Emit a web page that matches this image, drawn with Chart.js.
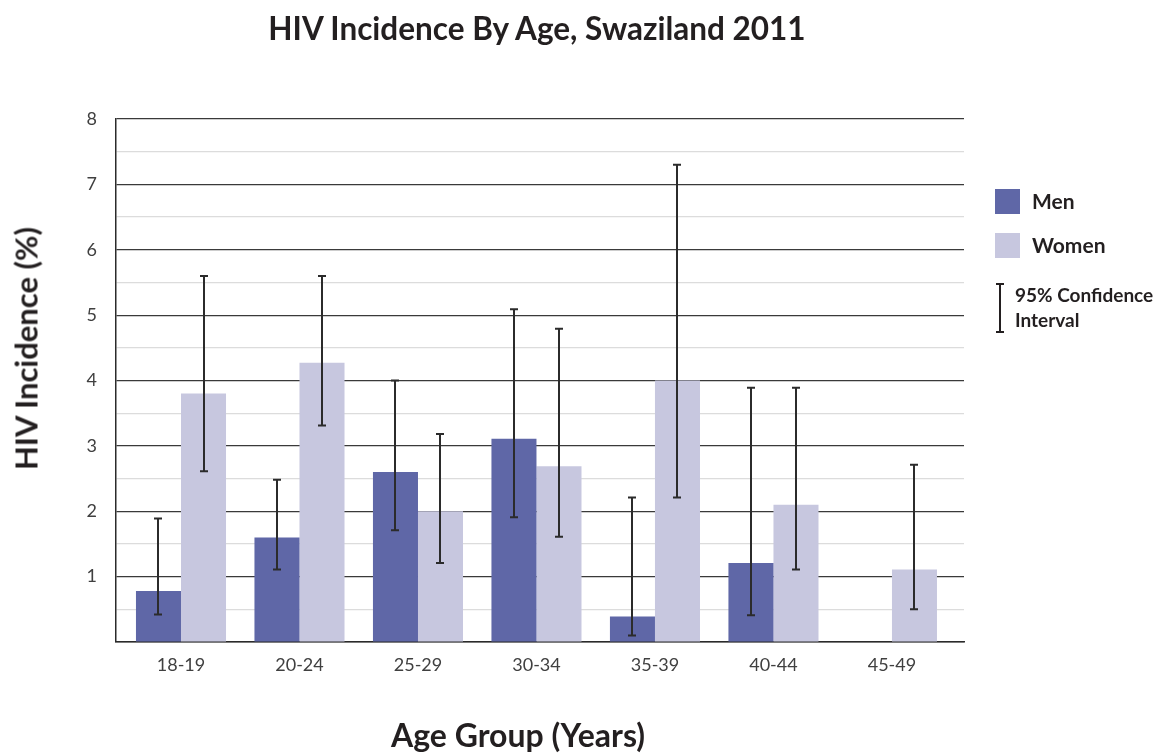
<!DOCTYPE html>
<html><head><meta charset="utf-8">
<script src="https://cdn.jsdelivr.net/npm/chart.js@4.4.1/dist/chart.umd.min.js"></script>
<style>
html,body{margin:0;padding:0;background:#fff;}
#wrap{position:relative;width:1156px;height:756px;overflow:hidden;font-family:Lato,'Open Sans',sans-serif;color:#231f20;}
canvas{position:absolute;left:0;top:0;}
.t{position:absolute;white-space:nowrap;line-height:1;font-weight:bold;}
.sw{position:absolute;width:25px;height:25px;}
</style></head><body>
<div id="wrap">
<canvas id="c" width="1156" height="756"></canvas>
<div class="t" style="font-size:31.5px;left:0;width:1074px;text-align:center;top:13px;">HIV Incidence By Age, Swaziland 2011</div>
<div class="t" style="font-size:31px;left:-174px;width:400px;text-align:center;top:333px;transform:rotate(-90deg);">HIV Incidence (%)</div>
<div class="t" style="font-size:32px;left:318px;width:400px;text-align:center;top:719px;">Age Group (Years)</div>
<div class="sw" style="left:995px;top:189px;background:#5f67a7;"></div>
<div class="t" style="font-size:21px;left:1032px;top:190px;">Men</div>
<div class="sw" style="left:995px;top:233px;background:#c7c7df;"></div>
<div class="t" style="font-size:21px;left:1032px;top:234px;">Women</div>
<div style="position:absolute;left:999px;top:284px;width:2px;height:48px;background:#231f20;"></div>
<div style="position:absolute;left:996px;top:283px;width:8px;height:2px;background:#231f20;"></div>
<div style="position:absolute;left:996px;top:331px;width:8px;height:2px;background:#231f20;"></div>
<div class="t" style="font-size:19px;left:1015px;top:282px;line-height:25px;">95% Confidence<br>Interval</div>
</div>
<script>
const categories = ['18-19','20-24','25-29','30-34','35-39','40-44','45-49'];
const menValues   = [0.78, 1.60, 2.60, 3.11, 0.39, 1.21, null];
const womenValues = [3.80, 4.27, 2.00, 2.69, 4.00, 2.10, 1.11];
const menLow      = [0.42, 1.11, 1.71, 1.91, 0.10, 0.41, null];
const menHigh     = [1.89, 2.48, 4.00, 5.09, 2.21, 3.89, null];
const womenLow    = [2.61, 3.31, 1.21, 1.61, 2.21, 1.11, 0.50];
const womenHigh   = [5.60, 5.60, 3.18, 4.79, 7.30, 3.89, 2.71];
const yTickLabels = [1, 2, 3, 4, 5, 6, 7, 8];

const toPoints = arr => arr.map((v, i) => ({x: i, y: v}));

const errorBars = {
  id: 'errorBars',
  afterDatasetsDraw(chart) {
    const ctx = chart.ctx, y = chart.scales.y;
    const bounds = [[menLow, menHigh], [womenLow, womenHigh]];
    ctx.save();
    ctx.strokeStyle = '#2b2b2b';
    ctx.lineWidth = 2;
    bounds.forEach(([lo, hi], d) => {
      const meta = chart.getDatasetMeta(d);
      meta.data.forEach((bar, i) => {
        if (lo[i] == null || hi[i] == null) return;
        const x = Math.round(bar.x);
        const y1 = y.getPixelForValue(lo[i]);
        const y2 = y.getPixelForValue(hi[i]);
        ctx.beginPath();
        ctx.moveTo(x, y1); ctx.lineTo(x, y2);
        ctx.moveTo(x - 4, y1); ctx.lineTo(x + 4, y1);
        ctx.moveTo(x - 4, y2); ctx.lineTo(x + 4, y2);
        ctx.stroke();
      });
    });
    ctx.restore();
  }
};

new Chart(document.getElementById('c'), {
  type: 'bar',
  data: {
    datasets: [
      {label: 'Men', data: toPoints(menValues), backgroundColor: '#5f67a7', borderWidth: 0},
      {label: 'Women', data: toPoints(womenValues), backgroundColor: '#c7c7df', borderWidth: 0}
    ]
  },
  options: {
    responsive: false,
    animation: false,
    layout: {padding: {top: 119, right: 192, left: 0, bottom: 0}},
    datasets: {bar: {categoryPercentage: 0.76, barPercentage: 1.0, grouped: true}},
    plugins: {legend: {display: false}, title: {display: false}, tooltip: {enabled: false}},
    scales: {
      x: {
        type: 'linear',
        offset: false,
        min: -0.5485,
        max: 6.608,
        afterFit: s => { s.height = 114; },
        afterBuildTicks: s => { s.ticks = categories.map((c, i) => ({value: i})); },
        grid: {display: false, drawTicks: false},
        border: {display: true, color: '#2b2b2b', width: 1.5},
        ticks: {
          autoSkip: false, maxRotation: 0, padding: 12,
          color: '#404040', font: {family: 'Lato', size: 18},
          callback: v => categories[v]
        }
      },
      y: {
        min: 0, max: 8,
        afterFit: s => { s.width = 116; },
        ticks: {
          stepSize: 0.5, padding: 19, color: '#404040', font: {family: 'Lato', size: 18},
          callback: v => yTickLabels.includes(v) ? String(v) : ''
        },
        grid: {
          drawTicks: false,
          color: c => Number.isInteger(c.tick.value) ? '#3a3a3a' : '#dcdcdc',
          lineWidth: 1.2
        },
        border: {display: true, color: '#2b2b2b', width: 1.5}
      }
    }
  },
  plugins: [errorBars]
});
</script>
</body></html>
